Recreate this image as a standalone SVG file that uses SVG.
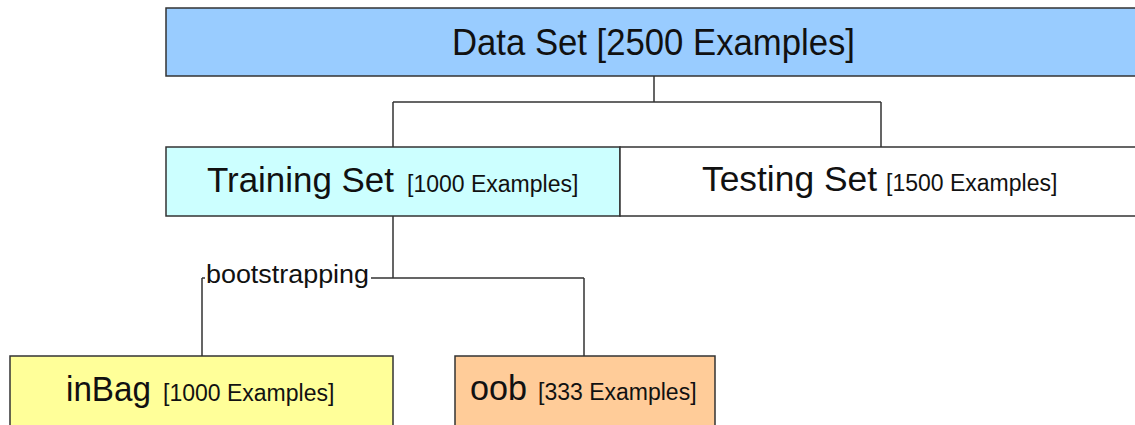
<svg xmlns="http://www.w3.org/2000/svg" width="1135" height="425" viewBox="0 0 1135 425">
<style>
.box{stroke:#333;stroke-width:1.5}
.t{font-family:"Liberation Sans",Arial,sans-serif;fill:#111}
.big{font-size:35px}
.small{font-size:23px}
.conn{fill:none;stroke:#333;stroke-width:1.5}
</style>
<rect x="0" y="0" width="1135" height="425" fill="#ffffff"/>
<g id="connectors">
<path class="conn" d="M654 76 V102 M393 102 H881 M393 102 V147 M881 102 V147"/>
<path class="conn" d="M393 216 V278 M202 278 H584 M202 278 V356 M584 278 V356"/>
<rect x="205" y="262" width="166" height="29" fill="#ffffff"/>
<text class="t" x="206" y="283" font-size="25" textLength="163" lengthAdjust="spacingAndGlyphs">bootstrapping</text>
</g>
<g id="dataset">
<rect class="box" x="166" y="8" width="980" height="68" fill="#99ccff"/>
<text class="t" x="452" y="55" font-size="36" textLength="403" lengthAdjust="spacingAndGlyphs">Data Set [2500 Examples]</text>
</g>
<g id="training">
<rect class="box" x="166" y="147" width="454" height="69" fill="#ccffff"/>
<text class="t big" x="207" y="192" textLength="187" lengthAdjust="spacingAndGlyphs">Training Set</text>
<text class="t small" x="407" y="192">[1000 Examples]</text>
</g>
<g id="testing">
<rect class="box" x="620" y="147" width="530" height="69" fill="#ffffff"/>
<text class="t big" x="702" y="191" textLength="175" lengthAdjust="spacingAndGlyphs">Testing Set</text>
<text class="t small" x="886" y="191">[1500 Examples]</text>
</g>
<g id="inbag">
<rect class="box" x="10" y="356" width="383" height="80" fill="#ffff99"/>
<text class="t big" x="66" y="401" textLength="85" lengthAdjust="spacingAndGlyphs">inBag</text>
<text class="t small" x="163" y="401">[1000 Examples]</text>
</g>
<g id="oob">
<rect class="box" x="455" y="356" width="260" height="80" fill="#ffcc99"/>
<text class="t big" x="470" y="400" textLength="57" lengthAdjust="spacingAndGlyphs">oob</text>
<text class="t small" x="538" y="400">[333 Examples]</text>
</g>
</svg>
